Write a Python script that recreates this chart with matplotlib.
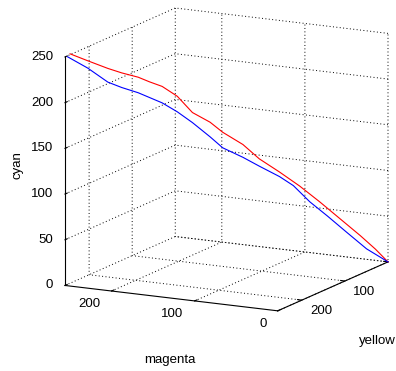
import matplotlib
matplotlib.use('Agg')
import matplotlib.pyplot as plt
import numpy as np
from mpl_toolkits.mplot3d import proj3d

# values (magenta = yellow along the gray axis)
red_my = [252, 238, 222, 211, 198, 189, 179, 167, 155, 141, 131, 115, 102, 86, 70, 54, 38, 22, 10, 0]
red_cyan = [253, 244, 234, 228, 222, 216, 210, 198, 179, 167, 155, 140, 123, 107, 90, 71, 51, 31, 15, 0]
blue_my = [254, 238, 222, 211, 198, 179, 167, 155, 141, 131, 115, 102, 86, 75, 62, 48, 33, 17, 0]
blue_cyan = [250, 236, 219, 212, 205, 192, 181, 168, 151, 138, 126, 115, 102, 91, 72, 55, 36, 16, 0]

magenta_ticks = [0, 100, 200]
yellow_ticks = [0, 100, 200]
yellow_labels = [100, 200]
cyan_ticks = [0, 50, 100, 150, 200, 250]

plt.rcParams['font.family'] = ['Liberation Sans', 'DejaVu Sans']
plt.rcParams['font.size'] = 9.5

W, H = 396, 371
fig = plt.figure(figsize=(W / 100, H / 100), dpi=100)
ax = fig.add_axes([0, 0, 1, 1], projection='3d', proj_type='ortho')

ax.plot(red_my, red_my, red_cyan, color='#ff0000', lw=0.8)
ax.plot(blue_my, blue_my, blue_cyan, color='#0000ff', lw=0.8)

ax.set_xlim(0, 256)
ax.set_ylim(0, 256)
ax.set_zlim(0, 250)
ax.set_xticks(magenta_ticks)
ax.set_yticks(yellow_ticks)
ax.set_zticks(cyan_ticks)
ax.zaxis.set_ticks_position('upper')
ax.view_init(elev=13.3, azim=117.4)
ax.set_box_aspect((1, 1, 0.98))

for axis in (ax.xaxis, ax.yaxis, ax.zaxis):
    axis.set_pane_color((1, 1, 1, 0))
    axis.pane.set_edgecolor((1, 1, 1, 0))
    axis.line.set_color('black')
    axis.line.set_linewidth(0.8)
    axis._axinfo['grid'].update(color='black', linewidth=0.7, linestyle=(0, (1, 2.5)))
    axis._axinfo['tick'].update(inward_factor=0.0, outward_factor=0.25)
    # the built-in 3D tick labels sit too far out, they are drawn below instead
    axis.set_tick_params(labelbottom=False, colors='black', width=0.8)
    axis.label.set_visible(False)
    axis.offsetText.set_visible(False)

fig.canvas.draw()


def project(xs, ys, zs):
    px, py, _ = proj3d.proj_transform(np.asarray(xs, float), np.asarray(ys, float),
                                      np.asarray(zs, float), ax.M)
    return px, py


# fit the projected box onto the reference layout (pixels, y from top)
cx = [0, 256, 0, 256, 0, 256, 0, 256]
cy = [0, 0, 256, 256, 0, 0, 256, 256]
cz = [0, 0, 0, 0, 250, 250, 250, 250]
pix = ax.transData.transform(np.column_stack(project(cx, cy, cz)))
left, right = pix[:, 0].min(), pix[:, 0].max()
top = pix[:, 1].max()
bb = ax.get_position()
side = bb.width * W
k = (388 - 65) / (right - left)
ctr_x = (bb.x0 + bb.width / 2) * W
ctr_y = (bb.y0 + bb.height / 2) * H
new_side = side * k
new_cx = 65 - k * (left - ctr_x)
new_cy = (H - 8) - k * (top - ctr_y)
ax.set_position([(new_cx - new_side / 2) / W, (new_cy - new_side / 2) / H,
                 new_side / W, new_side / H])

# MATLAB-like tick labels: fixed pixel offset from each projected tick
mx, my = project(magenta_ticks, [256] * 3, [0] * 3)
for m, x, y in zip(magenta_ticks, mx, my):
    ax.annotate(str(m), (x, y), xytext=(-11, -13), textcoords='offset pixels',
                ha='right', va='center')
yx, yy = project([0] * 2, yellow_labels, [0] * 2)
for v, x, y in zip(yellow_labels, yx, yy):
    ax.annotate(str(v), (x, y), xytext=(8.5, -10.6), textcoords='offset pixels',
                ha='left', va='center')
zx, zy = project([256] * 6, [256] * 6, cyan_ticks)
for c, x, y in zip(cyan_ticks, zx, zy):
    ax.annotate(str(c), (x, y), xytext=(-12, 0), textcoords='offset pixels',
                ha='right', va='center')

fig.text(17.5 / W, 1 - 165 / H, 'cyan', rotation=90, ha='center', va='center')
fig.text(170 / W, 1 - 360 / H, 'magenta', ha='center', va='center')
fig.text(377 / W, 1 - 341 / H, 'yellow', ha='center', va='center')

fig.savefig('out.png', dpi=100)
